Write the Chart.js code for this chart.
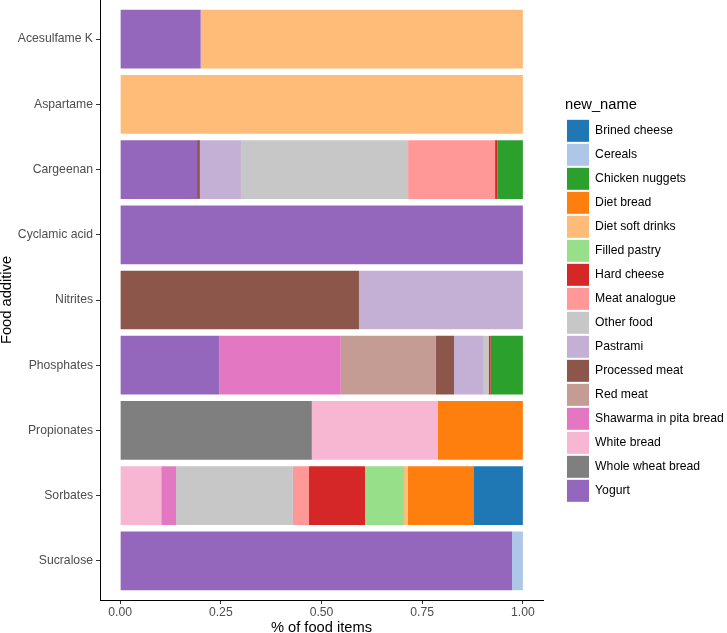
<!DOCTYPE html>
<html>
<head>
<meta charset="utf-8">
<script src="https://cdn.jsdelivr.net/npm/chart.js@4/dist/chart.umd.min.js"></script>
<style>
  html, body { margin: 0; padding: 0; background: #fff; }
  #wrap { width: 727px; height: 633px; position: relative; }
</style>
</head>
<body>
<div id="wrap"><canvas id="chart"></canvas></div>
<script>
// categories (top to bottom)
var additives = ['Acesulfame K', 'Aspartame', 'Cargeenan', 'Cyclamic acid', 'Nitrites',
                 'Phosphates', 'Propionates', 'Sorbates', 'Sucralose'];

// share of food items per additive, one array per food group (same order as additives)
var yogurt          = [0.200, 0, 0.191, 1, 0,     0.246, 0,     0,     0.973];
var wholeWheatBread = [0,     0, 0,     0, 0,     0,     0.476, 0,     0];
var whiteBread      = [0,     0, 0,     0, 0,     0,     0.313, 0.102, 0];
var shawarma        = [0,     0, 0,     0, 0,     0.302, 0,     0.037, 0];
var redMeat         = [0,     0, 0,     0, 0,     0.236, 0,     0,     0];
var processedMeat   = [0,     0, 0.007, 0, 0.593, 0.045, 0,     0,     0];
var pastrami        = [0,     0, 0.102, 0, 0.407, 0.074, 0,     0,     0];
var otherFood       = [0,     0, 0.415, 0, 0,     0.012, 0,     0.290, 0];
var meatAnalogue    = [0,     0, 0.216, 0, 0,     0,     0,     0.040, 0];
var hardCheese      = [0,     0, 0.006, 0, 0,     0.005, 0,     0.139, 0];
var filledPastry    = [0,     0, 0,     0, 0,     0,     0,     0.097, 0];
var dietSoftDrinks  = [0.800, 1, 0,     0, 0,     0,     0,     0.009, 0];
var dietBread       = [0,     0, 0,     0, 0,     0,     0.211, 0.163, 0];
var chickenNuggets  = [0,     0, 0.063, 0, 0,     0.080, 0,     0,     0];
var cereals         = [0,     0, 0,     0, 0,     0,     0,     0,     0.027];
var brinedCheese    = [0,     0, 0,     0, 0,     0,     0,     0.123, 0];

var xTicks = [0, 0.25, 0.5, 0.75, 1];

// stacking order: first series sits at 0
var series = [
  ['Yogurt', yogurt, '#9467bd'],
  ['Whole wheat bread', wholeWheatBread, '#7f7f7f'],
  ['White bread', whiteBread, '#f7b6d2'],
  ['Shawarma in pita bread', shawarma, '#e377c2'],
  ['Red meat', redMeat, '#c49c94'],
  ['Processed meat', processedMeat, '#8c564b'],
  ['Pastrami', pastrami, '#c5b0d5'],
  ['Other food', otherFood, '#c7c7c7'],
  ['Meat analogue', meatAnalogue, '#ff9896'],
  ['Hard cheese', hardCheese, '#d62728'],
  ['Filled pastry', filledPastry, '#98df8a'],
  ['Diet soft drinks', dietSoftDrinks, '#ffbb78'],
  ['Diet bread', dietBread, '#ff7f0e'],
  ['Chicken nuggets', chickenNuggets, '#2ca02c'],
  ['Cereals', cereals, '#aec7e8'],
  ['Brined cheese', brinedCheese, '#1f77b4']
];

var FONT = "'Liberation Sans', Arial, sans-serif";

var datasets = [];
for (var k = 0; k < series.length; k++) {
  datasets.push({
    label: series[k][0],
    data: series[k][1].map(function (v, i) { return {x: v, y: i}; }),
    backgroundColor: series[k][2],
    borderWidth: 0,
    xAxisID: 'x',
    yAxisID: 'y'
  });
}

function noPad(scale) {
  scale.paddingLeft = 0; scale.paddingRight = 0;
  scale.paddingTop = 0; scale.paddingBottom = 0;
}

new Chart(document.getElementById('chart').getContext('2d'), {
  type: 'bar',
  data: { datasets: datasets },
  options: {
    indexAxis: 'y',
    responsive: true,
    maintainAspectRatio: false,
    animation: false,
    categoryPercentage: 1,
    barPercentage: 0.9,
    layout: { padding: { left: 0, right: 2, top: 0, bottom: 0 } },
    plugins: {
      tooltip: { enabled: false },
      legend: {
        position: 'right',
        align: 'center',
        fullSize: false,
        reverse: true,
        maxWidth: 160,
        labels: {
          boxWidth: 22,
          boxHeight: 22,
          padding: 2,
          color: '#000',
          font: { family: FONT, size: 12.2 }
        },
        title: {
          display: true,
          text: 'new_name',
          position: 'start',
          color: '#000',
          padding: { top: 1, bottom: 3 },
          font: { family: FONT, size: 14.7 }
        }
      }
    },
    scales: {
      x: {
        type: 'linear',
        position: 'bottom',
        stacked: true,
        offset: false,
        min: -0.05,
        max: 1.05,
        afterBuildTicks: function (scale) {
          scale.ticks = xTicks.map(function (v) { return {value: v}; });
        },
        afterFit: function (scale) { scale.height = 33; noPad(scale); },
        ticks: {
          color: '#4d4d4d',
          padding: 1,
          maxRotation: 0,
          font: { family: FONT, size: 12.2 },
          callback: function (v) { return Number(v).toFixed(2); }
        },
        grid: { offset: false, drawOnChartArea: false, drawTicks: true, tickLength: 4, tickColor: '#333', tickWidth: 1 },
        border: { display: true, color: '#000', width: 1 },
        title: {
          display: true,
          text: '% of food items',
          color: '#000',
          padding: { top: 0, bottom: -2 },
          font: { family: FONT, size: 14.7, lineHeight: 1 }
        }
      },
      y: {
        type: 'linear',
        position: 'left',
        stacked: true,
        reverse: true,
        offset: false,
        min: -0.6,
        max: 8.6,
        afterBuildTicks: function (scale) {
          scale.ticks = additives.map(function (a, i) { return {value: i}; });
        },
        afterFit: function (scale) { scale.width = 100; noPad(scale); },
        ticks: {
          color: '#4d4d4d',
          padding: 3,
          font: { family: FONT, size: 12.2 },
          callback: function (v) { return additives[v]; }
        },
        grid: { offset: false, drawOnChartArea: false, drawTicks: true, tickLength: 4, tickColor: '#333', tickWidth: 1 },
        border: { display: true, color: '#000', width: 1 },
        title: {
          display: true,
          text: 'Food additive',
          color: '#000',
          padding: { top: 0, bottom: 0 },
          font: { family: FONT, size: 14.7, lineHeight: 1 }
        }
      },
      gap: {
        type: 'linear',
        position: 'right',
        display: true,
        offset: false,
        grid: { display: false },
        border: { display: false },
        ticks: { display: false },
        afterFit: function (scale) { scale.width = 22; noPad(scale); }
      }
    }
  }
});
</script>
</body>
</html>
